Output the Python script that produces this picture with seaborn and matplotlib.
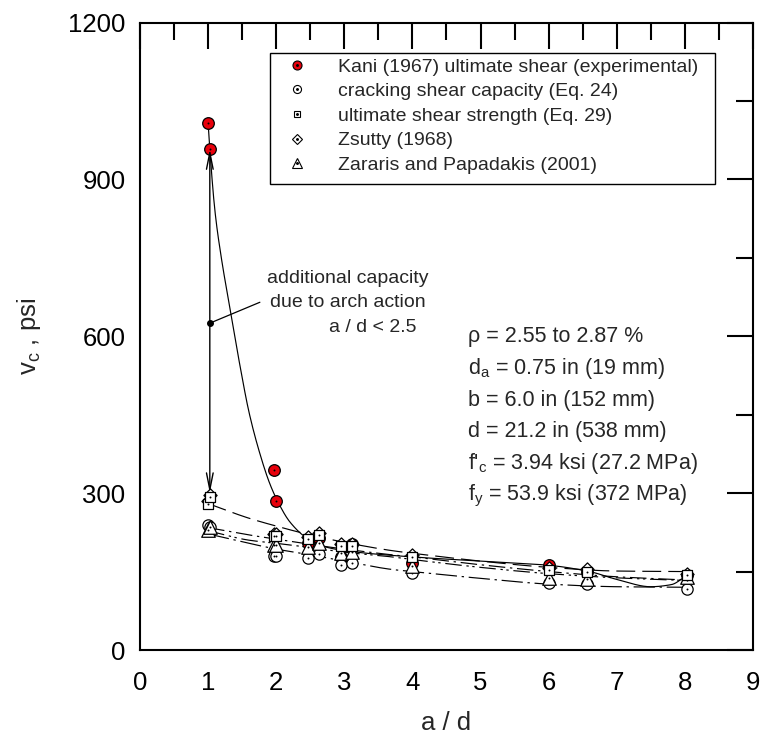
import numpy as np
import pandas as pd
import matplotlib
matplotlib.use("Agg")
import matplotlib.pyplot as plt
from matplotlib.lines import Line2D
from matplotlib.patches import Rectangle
import seaborn as sns

sns.set_theme(style="white")
plt.rcParams["font.family"] = ["Liberation Sans", "DejaVu Sans"]
plt.rcParams["mathtext.fontset"] = "custom"
plt.rcParams["mathtext.rm"] = "Liberation Sans"
plt.rcParams["mathtext.it"] = "Liberation Sans"

# ---- beams: shear span ratio and shear stresses (psi) ----
a_d = [1.0, 1.025, 1.97, 1.99, 2.46, 2.63, 2.95, 3.11, 3.99, 6.01, 6.57, 8.03]
kani = [1008, 958, 345, 285, 204, 215, 178, 203, 167, 162, 150, 143]
crack_eq24 = [240, 236, 180, 180, 175, 183, 162, 166, 148, 129, 126, 116]
ult_eq29 = [280, 293, 218, 218, 213, 220, 198, 199, 178, 153, 150, 143]
zsutty = [284, 297, 222, 222, 217, 224, 202, 203, 182, 156, 154, 146]
zararis = [229, 236, 201, 201, 197, 205, 186, 188, 160, 137, 135, 139]

# ---- trend curves (knots) ----
kani_fit_x = [1.0, 1.025, 1.1, 1.2, 1.3, 1.48, 1.6, 1.75, 1.9, 2.0, 2.2, 2.46,
              2.7, 3.0, 4.0, 5.0, 6.0, 6.6, 7.0, 7.5, 7.8, 8.03]
kani_fit_y = [1008, 958, 840, 745, 669, 535, 455, 380, 320, 290, 245, 213,
              198, 190, 178, 170, 162, 150, 135, 121, 125, 143]
fit_x = [1, 1.6, 2, 2.5, 3, 3.7, 4, 5, 6, 7, 8]
eq29_fit = [280, 252, 237, 220, 206, 190, 185, 170, 158, 151, 150]
zsutty_fit = [234, 220, 212, 202, 193, 182, 178, 163, 150, 140, 134]
zararis_fit = [228, 210, 204, 196, 187, 178, 173, 158, 146, 138, 133]
eq24_fit = [222, 204, 193, 182, 170, 154, 150, 137, 126, 121, 120]

legend_labels = ["Kani (1967) ultimate shear (experimental)",
                 "cracking shear capacity (Eq. 24)",
                 "ultimate shear strength (Eq. 29)",
                 "Zsutty (1968)",
                 "Zararis and Papadakis (2001)"]

props = ["\u03c1 = 2.55 to 2.87 %",
         "d$_\\mathregular{a}$ = 0.75 in (19 mm)",
         "b = 6.0 in (152 mm)",
         "d = 21.2 in (538 mm)",
         "f'$_\\mathregular{c}$ = 3.94 ksi (27.2 MPa)",
         "f$_\\mathregular{y}$ = 53.9 ksi (372 MPa)"]
props_y = [599, 538, 477, 417, 356, 295]


def pchip(xk, yk, xs):
    xk = np.asarray(xk, float)
    yk = np.asarray(yk, float)
    h = np.diff(xk)
    d = np.diff(yk) / h
    n = len(xk)
    m = np.zeros(n)
    for k in range(1, n - 1):
        if d[k - 1] * d[k] > 0:
            w1 = 2 * h[k] + h[k - 1]
            w2 = h[k] + 2 * h[k - 1]
            m[k] = (w1 + w2) / (w1 / d[k - 1] + w2 / d[k])
    m[0] = d[0]
    m[-1] = d[-1]
    idx = np.clip(np.searchsorted(xk, xs) - 1, 0, n - 2)
    t = (xs - xk[idx]) / h[idx]
    h00 = 2 * t**3 - 3 * t**2 + 1
    h10 = t**3 - 2 * t**2 + t
    h01 = -2 * t**3 + 3 * t**2
    h11 = t**3 - t**2
    return (h00 * yk[idx] + h10 * h[idx] * m[idx] + h01 * yk[idx + 1]
            + h11 * h[idx] * m[idx + 1])


fig = plt.figure(figsize=(7.61, 7.40), dpi=100)
ax = fig.add_axes([140 / 761, 1 - 650 / 740, 613 / 761, 627.5 / 740])

# trend curves
curves = [
    (kani_fit_x, kani_fit_y, "-"),
    (fit_x, eq29_fit, (0, (16, 6))),
    (fit_x, zsutty_fit, (0, (14, 4, 2, 4))),
    (fit_x, zararis_fit, (0, (14, 4, 2, 3, 2, 4))),
    (fit_x, eq24_fit, (0, (18, 4, 2, 4))),
]
for xk, yk, ls in curves:
    xs = np.linspace(xk[0], xk[-1], 600)
    df = pd.DataFrame({"x": xs, "y": pchip(xk, yk, xs)})
    sns.lineplot(data=df, x="x", y="y", ax=ax, color="black", lw=0.85,
                 estimator=None, sort=False, zorder=2, linestyle=ls)

# markers
series = [
    (kani, "o", "#e8000b", 70),
    (crack_eq24, "o", "white", 66),
    (zararis, "^", "white", 95),
    (zsutty, "D", "white", 45),
    (ult_eq29, "s", "white", 52),
]
z = 3
for vals, mk, fc, size in series:
    df = pd.DataFrame({"x": a_d, "y": vals})
    sns.scatterplot(data=df, x="x", y="y", ax=ax, marker=mk, s=size,
                    color=fc, edgecolor="black", linewidth=0.9, zorder=z)
    sns.scatterplot(data=df, x="x", y="y", ax=ax, marker="o", s=2,
                    color="black", edgecolor="black", linewidth=0, zorder=z + 0.5)
    z += 1

# double arrow showing arch-action capacity
ax.annotate("", xy=(1.025, 958), xytext=(1.025, 300),
            arrowprops=dict(arrowstyle="<->,head_length=1.0,head_width=0.2",
                            color="black", lw=1.0, shrinkA=0, shrinkB=0),
            zorder=9)
ax.plot([1.025, 1.76], [625, 665], color="black", lw=0.9, zorder=9)
ax.plot([1.025], [625], "o", color="black", ms=4, zorder=10)
ax.text(3.05, 711, "additional capacity", ha="center", va="center", fontsize=14)
ax.text(3.05, 664, "due to arch action", ha="center", va="center", fontsize=14)
ax.text(3.42, 616, "a / d < 2.5", ha="center", va="center", fontsize=14)

for s, yv in zip(props, props_y):
    ax.text(4.82, yv, s, ha="left", va="center", fontsize=15.5)

# axes styling
ax.set_xlim(0, 9)
ax.set_ylim(0, 1200)
ax.set_xticks(range(10))
ax.set_yticks([0, 300, 600, 900, 1200])
ax.set_xticks(np.arange(0.5, 9, 1.0), minor=True)
ax.set_yticks([150, 450, 750, 1050], minor=True)
ax.tick_params(which="both", direction="in", top=True, right=True,
               width=1.5, labelsize=18.5, colors="black")
ax.tick_params(axis="x", which="major", pad=15)
ax.tick_params(axis="y", which="major", pad=10.5)
ax.tick_params(which="major", length=18.5)
ax.tick_params(which="minor", length=12)
for sp in ax.spines.values():
    sp.set_linewidth(1.5)
    sp.set_color("black")
ax.set_xlabel("a / d", fontsize=18.5, labelpad=11.5)
ax.set_ylabel("v$_\\mathregular{c}$ , psi", fontsize=18.5, labelpad=18)

handles = []
for mk, fc, ms in [("o", "#e8000b", 6.5), ("o", "white", 5.8), ("s", "white", 5),
                   ("D", "white", 5.2), ("^", "white", 6.8)]:
    h1 = Line2D([], [], ls="none", marker=mk, ms=ms, mfc=fc, mec="black", mew=0.8)
    h2 = Line2D([], [], ls="none", marker="o", ms=1.1, mfc="black", mec="black")
    handles.append((h1, h2))
fx = lambda px: (px - 140) / 613
fy = lambda py: 1 - (py - 22.5) / 627.5
leg = ax.legend(handles, legend_labels, loc="upper left",
                bbox_to_anchor=(fx(287), fy(58)), borderaxespad=0,
                fontsize=14, frameon=False, handlelength=1.0,
                handletextpad=1.6, borderpad=0.0, labelspacing=0.36)
ax.add_patch(Rectangle((fx(270), fy(184)), fx(715) - fx(270), fy(52.5) - fy(184),
                       transform=ax.transAxes, fill=True, facecolor="white",
                       edgecolor="black", lw=1.0, zorder=8))
leg.set_zorder(11)

fig.savefig("out.png", dpi=100)
